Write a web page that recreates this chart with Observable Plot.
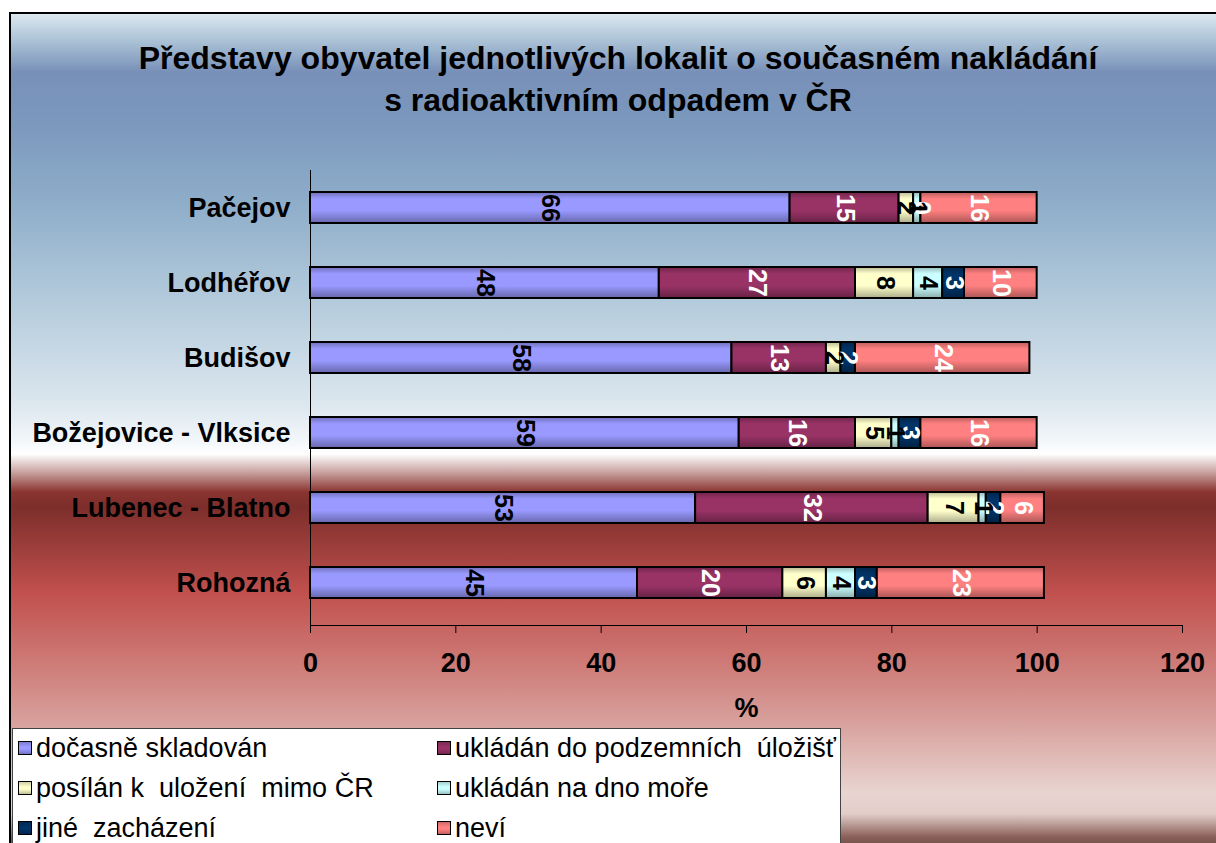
<!DOCTYPE html>
<html>
<head>
<meta charset="utf-8">
<script src="https://cdn.jsdelivr.net/npm/d3@7"></script>
<script src="https://cdn.jsdelivr.net/npm/@observablehq/plot@0.6"></script>
<style>
  html, body { margin: 0; padding: 0; overflow: hidden; background: #ffffff; }
  #page { position: relative; width: 1216px; height: 843px; overflow: hidden; font-family: Arial, "Liberation Sans", sans-serif; }
  #frame {
    position: absolute; left: 9px; top: 12px; width: 1230px; height: 850px;
    border-left: 2px solid #000; border-top: 2px solid #000; box-sizing: border-box;
    background: linear-gradient(to bottom,
      #dce8f0 0px, #a9c0d5 28px, #7890b8 58px, #7b98bd 108px, #8eadc9 188px,
      #b4cbdc 288px, #dbe6ee 388px, #f3f7fa 428px, #ffffff 440px, #c9a3a1 458px,
      #8a3430 478px, #7d2e2b 493px, #c0504d 578px, #cc7470 638px, #d8a09c 708px,
      #e8d4d0 778px, #e2cdc9 800px, #8a6058 823px, #5a4038 840px);
  }
  #title {
    position: absolute; left: 0; width: 1236px; top: 37px; text-align: center;
    font-size: 32px; font-weight: bold; line-height: 42px; color: #000;
  }
  #chart { position: absolute; left: 0; top: 0; }
  #legend {
    position: absolute; left: 12px; top: 728px; width: 829px; height: 140px;
    background: #fff; border: 1px solid #444; box-sizing: border-box;
  }
  .item { position: absolute; height: 40px; line-height: 40px; font-size: 27px; white-space: pre; color: #000; }
  .sw { position: absolute; width: 12px; height: 12px; border: 1px solid #000; top: 13px; left: 0; }
  .item span.t { position: absolute; left: 18px; top: 0; }
</style>
</head>
<body>
<div id="page">
  <div id="frame"></div>
  <div id="title">Představy obyvatel jednotlivých lokalit o současném nakládání<br>s radioaktivním odpadem v ČR</div>
  <div id="chart"></div>
  <div id="legend"></div>
</div>
<script>
// ---- data ----
const locations = ["Pačejov", "Lodhéřov", "Budišov", "Božejovice - Vlksice", "Lubenec - Blatno", "Rohozná"];
const seriesNames = ["dočasně skladován", "ukládán do podzemních  úložišť", "posílán k  uložení  mimo ČR", "ukládán na dno moře", "jiné  zacházení", "neví"];
const docasneSkladovan = [66, 48, 58, 59, 53, 45];
const podzemniUloziste = [15, 27, 13, 16, 32, 20];
const mimoCR = [2, 8, 2, 5, 7, 6];
const dnoMore = [1, 4, null, 1, 1, 4];
const jineZachazeni = [0, 3, 2, 3, 2, 3];
const nevi = [16, 10, 24, 16, 6, 23];
const seriesColors = ["#9999ff", "#993366", "#ffffcc", "#ccffff", "#003366", "#ff8080"];
const darkLabelSeries = ["dočasně skladován", "posílán k  uložení  mimo ČR", "ukládán na dno moře"];
const xTicks = [0, 20, 40, 60, 80, 100, 120];
const xLabel = ["%"];

const seriesValues = [docasneSkladovan, podzemniUloziste, mimoCR, dnoMore, jineZachazeni, nevi];
const data = [];
locations.forEach((loc, i) => {
  seriesNames.forEach((s, j) => {
    const v = seriesValues[j][i];
    data.push({location: loc, series: s, value: v == null ? 0 : v, label: v == null ? null : String(v)});
  });
});

const gradIds = seriesNames.map((_, j) => `g${j}`);

const labelCommon = {
  x: "value", y: "location", z: "series", order: seriesNames,
  rotate: 90, fontSize: 25, fontWeight: "bold", textAnchor: "middle", lineAnchor: "middle"
};

const svg = Plot.plot({
  width: 1216, height: 720,
  marginLeft: 310, marginRight: 34, marginTop: 170, marginBottom: 95,
  style: {background: "transparent", fontFamily: "Arial, 'Liberation Sans', sans-serif", overflow: "visible", color: "#000"},
  x: {domain: [0, 120], ticks: xTicks, label: null},
  y: {domain: locations, paddingInner: 0.589, paddingOuter: 0.312, align: 0.447, label: null},
  color: {domain: seriesNames, range: gradIds.map(id => `url(#${id})`)},
  marks: [
    Plot.barX(data, Plot.stackX({x: "value", y: "location", fill: "series", order: seriesNames, stroke: "#000", strokeWidth: 2})),
    Plot.text(data, Plot.stackX({...labelCommon, text: d => darkLabelSeries.includes(d.series) ? null : d.label, fill: "#fff"})),
    Plot.text(data, Plot.stackX({...labelCommon, text: d => darkLabelSeries.includes(d.series) ? d.label : null, fill: "#000"})),
    Plot.ruleX([0], {stroke: "#000", strokeWidth: 1}),
    Plot.frame({anchor: "bottom", stroke: "#000", strokeWidth: 1}),
    Plot.axisX({ticks: xTicks, tickSize: 8, tickPadding: 19, fontSize: 27, fontWeight: "bold", label: null, stroke: "#000"}),
    Plot.axisY({tickSize: 0, tickPadding: 20, fontSize: 27, fontWeight: "bold", label: null}),
    Plot.text(xLabel, {text: d => d, frameAnchor: "bottom", dy: 83, fontSize: 27, fontWeight: "bold", lineAnchor: "middle"})
  ]
});

// gradient definitions for the shaded bars
const defs = d3.select(svg).insert("defs", ":first-child");
seriesColors.forEach((c, j) => {
  const g = defs.append("linearGradient").attr("id", gradIds[j]).attr("x1", 0).attr("y1", 0).attr("x2", 0).attr("y2", 1);
  const base = d3.color(c);
  [[0, base.darker(0.9)], [0.22, base], [0.6, base], [1, base.darker(1.1)]].forEach(([o, col]) => {
    g.append("stop").attr("offset", o).attr("stop-color", col.formatHex());
  });
});

document.getElementById("chart").appendChild(svg);

// legend
const legend = document.getElementById("legend");
seriesNames.forEach((s, j) => {
  const col = j % 2, row = Math.floor(j / 2);
  const item = document.createElement("div");
  item.className = "item";
  item.style.left = (col === 0 ? 5 : 424) + "px";
  item.style.top = (row * 40 - 1) + "px";
  const sw = document.createElement("div");
  sw.className = "sw";
  const base = d3.color(seriesColors[j]);
  sw.style.background = `linear-gradient(to bottom, ${base.darker(0.6).formatHex()}, ${base.formatHex()} 40%, ${base.formatHex()} 60%, ${base.darker(0.8).formatHex()})`;
  const t = document.createElement("span");
  t.className = "t";
  t.textContent = s;
  item.appendChild(sw);
  item.appendChild(t);
  legend.appendChild(item);
});
</script>
</body>
</html>
